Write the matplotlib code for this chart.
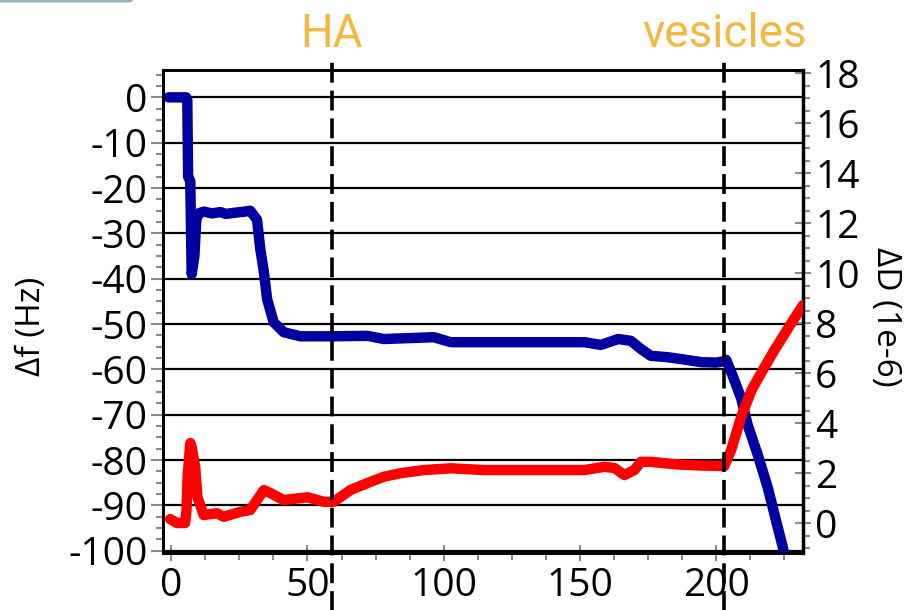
import matplotlib
matplotlib.use("Agg")
import matplotlib.pyplot as plt
from matplotlib.ticker import MultipleLocator
from matplotlib.patches import FancyBboxPatch

# frequency shift (left axis)
t_f = [-1, 2, 5.5, 5.9, 6.2, 7.0, 7.5, 8.5, 9.2, 10, 12, 15, 18, 20, 24, 27, 29,
       31.5, 32.7, 34, 35.2, 37.6, 41.3, 47.4, 59.6, 72, 78, 96.4, 102.6, 127,
       151.6, 157.7, 164, 168.7, 172.4, 176, 182, 188, 194.5, 200, 203, 203.7,
       206, 209.2, 211.6, 215.3, 219, 222, 224.5, 225.5]
df = [0, 0, 0, -0.5, -17.5, -18.5, -39, -35, -27, -25.6, -25.2, -25.6, -25.3,
      -25.7, -25.4, -25.2, -25.0, -27, -33.5, -38.5, -44.5, -49.6, -51.8, -52.7,
      -52.7, -52.6, -53.3, -52.9, -54, -54, -54, -54.6, -53.3, -53.7, -55.5,
      -57, -57.3, -57.8, -58.4, -58.5, -58.2, -57.9, -61.3, -66.4, -72.3, -78.9,
      -86.2, -93.4, -99.3, -102]

# dissipation (right axis)
t_d = [-0.4, 2.1, 5.1, 5.6, 6.0, 7.0, 7.4, 8.8, 9.6, 11.9, 16.8, 19.3, 25.4, 29,
       34, 36.4, 41.2, 50, 56, 59.6, 65.8, 72, 78, 84, 92.7, 102.6, 114.7, 127,
       151.6, 159, 162.7, 166.3, 170, 172.4, 176, 185, 194.5, 203, 205.5, 209.2,
       213, 216.5, 221.4, 227.6, 231.9]
dd = [0.16, 0, 0, 0.5, 1.85, 3.2, 3.1, 2.25, 1.05, 0.32, 0.39, 0.25, 0.45, 0.52,
      1.32, 1.2, 0.92, 1.03, 0.85, 0.85, 1.32, 1.6, 1.85, 1.99, 2.12, 2.19, 2.12,
      2.12, 2.12, 2.25, 2.2, 1.92, 2.12, 2.45, 2.45, 2.35, 2.3, 2.28, 2.92, 4.25,
      5.32, 6.0, 6.92, 8.0, 8.72]

events = [59, 203]
event_labels = ["HA", "vesicles"]

plt.rcParams["font.family"] = ["Open Sans", "DejaVu Sans"]
plt.rcParams["axes.unicode_minus"] = False
TICK_GRAY = "#8a8a8a"

fig = plt.figure(figsize=(9.16, 6.10), dpi=100)
ax = fig.add_axes([0.178, 0.0934, 0.699, 0.7916])
ax2 = ax.twinx()

ax.plot(t_f, df, color="#0000a0", lw=7.5, solid_capstyle="round",
        solid_joinstyle="round", zorder=3)
ax2.plot(t_d, dd, color="#ff0000", lw=7.5, solid_capstyle="round",
         solid_joinstyle="round", zorder=3)

ax.set_xlim(-3, 232)
ax.set_ylim(-100.5, 6)
ax2.set_ylim(-1.2, 18.12)

ax.xaxis.set_major_locator(MultipleLocator(50))
ax.xaxis.set_minor_locator(MultipleLocator(12.5))
ax.yaxis.set_major_locator(MultipleLocator(10))
ax.yaxis.set_minor_locator(MultipleLocator(2.5))
ax2.yaxis.set_major_locator(MultipleLocator(2))
ax2.yaxis.set_minor_locator(MultipleLocator(0.5))

ax.grid(axis="y", which="major", color="black", lw=1.6, zorder=0)
ax.set_axisbelow(True)

ax.tick_params(axis="both", which="major", direction="out", length=9, width=1.5,
               color=TICK_GRAY, labelsize=28, pad=2)
ax.tick_params(axis="both", which="minor", direction="out", length=5, width=1.5,
               color=TICK_GRAY)
ax.tick_params(axis="x", which="major", direction="inout", length=12, pad=4)
ax2.tick_params(axis="y", which="major", direction="inout", length=11, width=1.5,
                color=TICK_GRAY, labelsize=28, pad=3)
ax2.tick_params(axis="y", which="minor", direction="out", length=5, width=1.5,
                color=TICK_GRAY)

for a in (ax, ax2):
    for s in a.spines.values():
        s.set_linewidth(2)
        s.set_color("black")
ax2.spines["right"].set_linewidth(2.5)

ax.set_ylabel("Δf (Hz)", fontsize=24, va="center")
ax.yaxis.set_label_coords(-0.205, 0.47)
ax2.set_ylabel("ΔD (1e-6)", fontsize=24, rotation=-90, va="center")
ax2.yaxis.set_label_coords(1.128, 0.49)

for x, lab in zip(events, event_labels):
    ax2.axvline(x, ymin=-0.125, ymax=1.032, color="black", lw=2.6,
                ls=(0, (5.5, 2.2)), clip_on=False, zorder=5)
    ax2.text(x, 1.048, lab, transform=ax2.get_xaxis_transform(), ha="center",
             va="baseline", fontsize=33, color="#f4b840", family="Roboto")

# small tab fragment in the top-left corner
fig.patches.append(FancyBboxPatch((-0.02, 0.996), 0.165, 0.02,
                                  boxstyle="round,pad=0,rounding_size=0.004",
                                  transform=fig.transFigure, color="#8fb8bd",
                                  lw=0))

fig.savefig("out.png", dpi=100)
